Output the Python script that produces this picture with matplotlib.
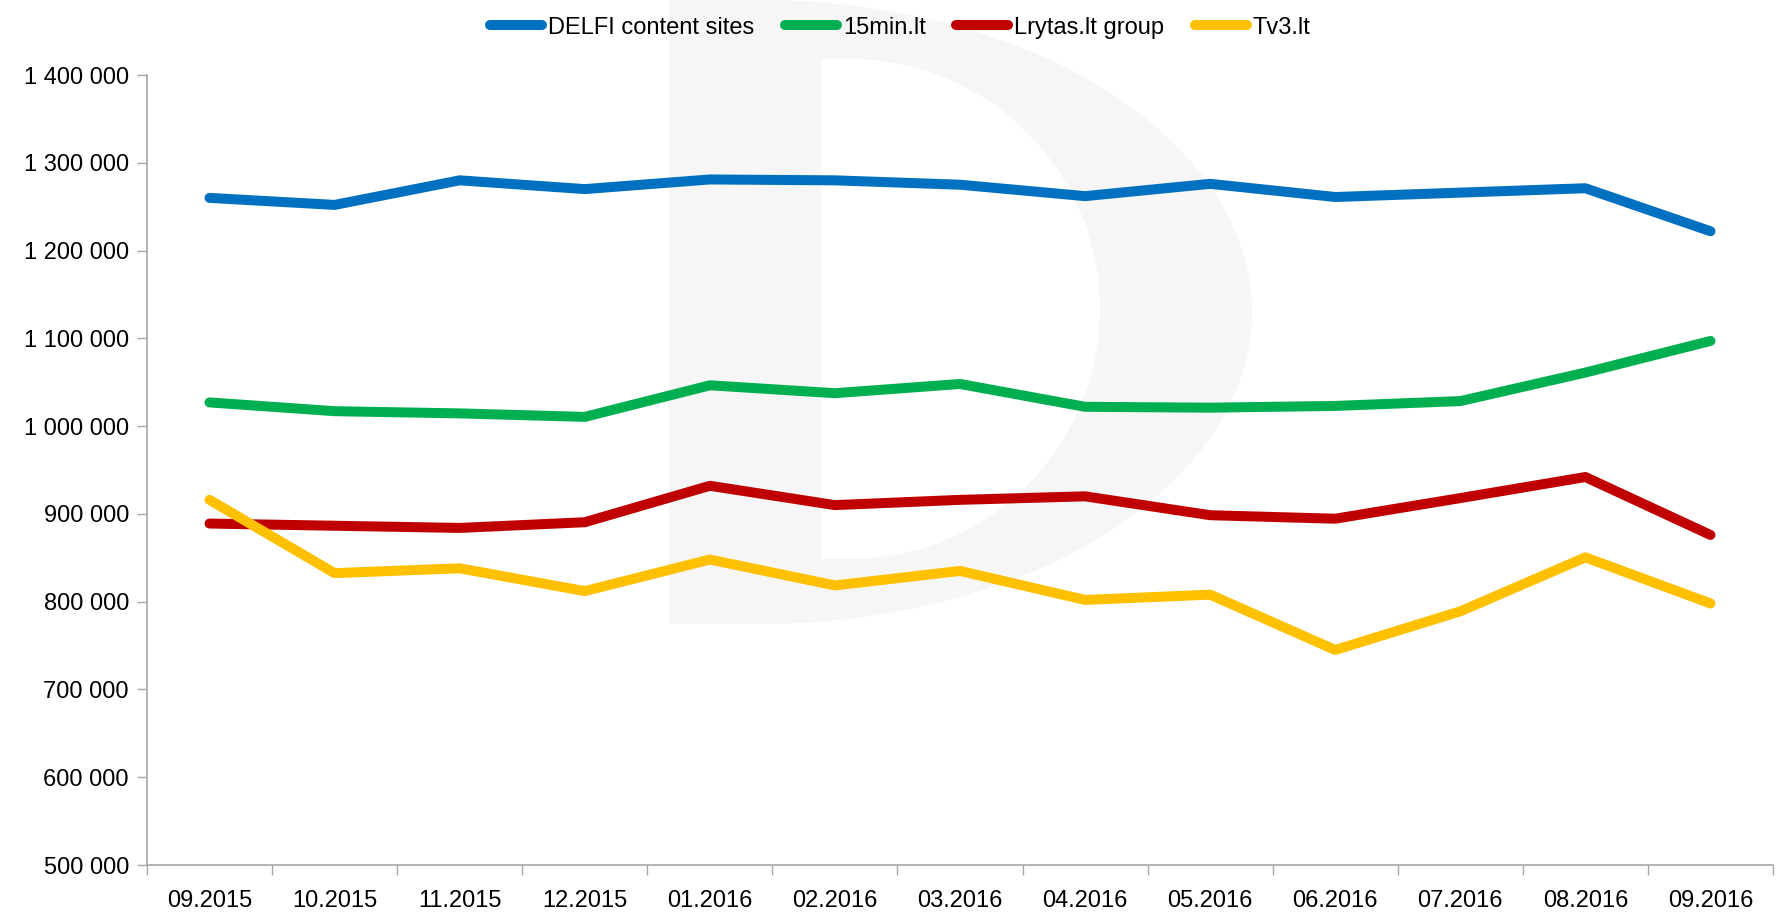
import numpy as np
import matplotlib
matplotlib.use('Agg')
from matplotlib import pyplot as plt
from matplotlib.ticker import FuncFormatter, FixedLocator
from matplotlib.patches import Polygon

plt.rcParams['font.family'] = ['Liberation Sans', 'DejaVu Sans']

months = ['09.2015', '10.2015', '11.2015', '12.2015', '01.2016', '02.2016', '03.2016',
          '04.2016', '05.2016', '06.2016', '07.2016', '08.2016', '09.2016']
delfi = [1260000, 1252000, 1280000, 1270000, 1281000, 1280000, 1275000,
         1262000, 1276000, 1261000, 1266000, 1271000, 1222000]
min15 = [1027000, 1017000, 1014500, 1010500, 1046500, 1037500, 1048000,
         1022000, 1021000, 1023000, 1028500, 1061000, 1097000]
lrytas = [889000, 886500, 884000, 890500, 932000, 910000, 916000,
          920000, 898500, 894500, 918000, 942000, 876000]
tv3 = [916000, 832500, 838000, 812000, 848000, 818500, 835000,
       802000, 808000, 745000, 789000, 850500, 798000]

series = [('DELFI content sites', delfi, '#0070C0'),
          ('15min.lt', min15, '#00B050'),
          ('Lrytas.lt group', lrytas, '#C00000'),
          ('Tv3.lt', tv3, '#FFC000')]

W, H = 1776, 913
fig = plt.figure(figsize=(W / 100, H / 100), dpi=100)

# faint "D" watermark behind the chart
def D_shape(x0, y0, y1, xc, xr, n=80):
    cy = (y0 + y1) / 2
    ry = (y1 - y0) / 2
    t = np.linspace(np.pi / 2, -np.pi / 2, n)
    arc = np.column_stack([xc + (xr - xc) * np.cos(t), cy - ry * np.sin(t)])
    pts = np.vstack([[x0, y0], arc, [x0, y1]])
    return np.column_stack([pts[:, 0] / W, 1 - pts[:, 1] / H])

fig.patches.append(Polygon(D_shape(669, 0, 624, 760, 1252), closed=True,
                           transform=fig.transFigure, facecolor='#F6F6F6',
                           edgecolor='none', zorder=0))
fig.patches.append(Polygon(D_shape(821, 59, 559, 850, 1100), closed=True,
                           transform=fig.transFigure, facecolor='white',
                           edgecolor='none', zorder=0.5))

ax = fig.add_axes([147 / W, 1 - 865 / H, (1773 - 147) / W, (865 - 75) / H])
ax.set_facecolor('none')
ax.set_zorder(1)

x = np.arange(len(months))
for name, vals, col in series:
    ax.plot(x, vals, color=col, lw=7.2, solid_capstyle='round',
            solid_joinstyle='round', label=name)

ax.set_ylim(500000, 1400000)
ax.set_xlim(-0.5, len(months) - 0.5)
ax.set_yticks(np.arange(500000, 1400001, 100000))
ax.yaxis.set_major_formatter(FuncFormatter(lambda v, p: '{:,.0f}'.format(v).replace(',', ' ')))
ax.set_xticks(x)
ax.set_xticklabels(months)
ax.xaxis.set_minor_locator(FixedLocator(np.arange(-0.5, len(months), 1.0)))
ax.tick_params(axis='x', which='major', length=0, pad=18, labelsize=17)
ax.tick_params(axis='x', which='minor', length=7, color='#A6A6A6', width=1)
ax.tick_params(axis='y', length=7, color='#A6A6A6', width=1, pad=6, labelsize=17)

for s in ['top', 'right']:
    ax.spines[s].set_visible(False)
for s in ['left', 'bottom']:
    ax.spines[s].set_color('#A6A6A6')
    ax.spines[s].set_linewidth(1.2)

fig.legend(loc='upper center', bbox_to_anchor=(0.507, 1.005), ncol=4, frameon=False,
           fontsize=17, handlelength=2.2, handletextpad=0.25, columnspacing=1.3)

plt.savefig('out.png', dpi=100)
